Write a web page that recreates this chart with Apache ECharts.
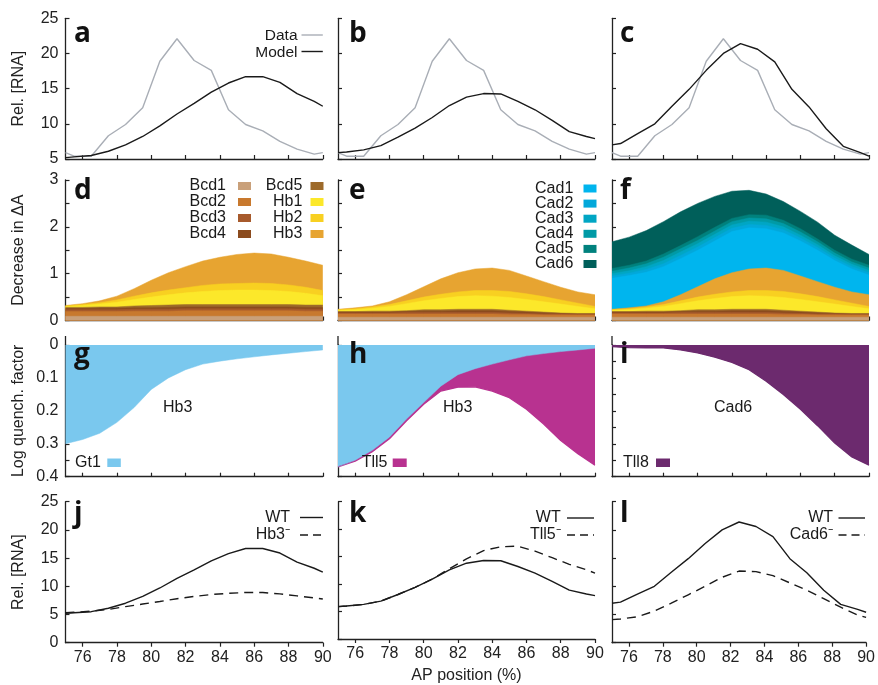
<!DOCTYPE html>
<html><head><meta charset="utf-8">
<script src="https://cdn.jsdelivr.net/npm/echarts@6/dist/echarts.min.js"></script>
<style>html,body{margin:0;padding:0;background:#fff}#c{width:878px;height:685px}</style>
</head><body><div id="c"></div>
<script>
// ---------- data ----------
const X_LINE = [75, 75.5, 76.5, 77.5, 78.5, 79.5, 80.5, 81.5, 82.5, 83.5, 84.5, 85.5, 86.5, 87.5, 88.5, 89.5, 90];
const X_AREA = [75, 76, 77, 78, 79, 80, 81, 82, 83, 84, 85, 86, 87, 88, 89, 90];
const X_TICKS = [76, 78, 80, 82, 84, 86, 88, 90];

const dataRNA   = [5.9, 5.4, 5.4, 8.3, 9.9, 12.3, 18.9, 22.1, 19.0, 17.6, 12.0, 9.9, 9.0, 7.5, 6.4, 5.7, 5.9];
const modelA    = [5.2, 5.3, 5.5, 6.1, 7.0, 8.2, 9.7, 11.4, 12.9, 14.5, 15.8, 16.7, 16.7, 15.9, 14.3, 13.2, 12.5];
const modelB    = [5.9, 6.0, 6.3, 6.9, 8.1, 9.4, 10.9, 12.6, 13.8, 14.3, 14.25, 13.2, 12.0, 10.5, 8.9, 8.2, 7.9];
const modelC    = [7.0, 7.2, 8.6, 10.0, 12.5, 14.9, 17.6, 20.0, 21.4, 20.6, 18.8, 14.9, 12.4, 9.3, 6.8, 5.9, 5.4];
const hb3Minus  = [5.3, 5.4, 5.6, 5.9, 6.4, 6.85, 7.3, 7.8, 8.2, 8.55, 8.75, 8.9, 8.9, 8.65, 8.3, 7.95, 7.75];
const tll5Minus = [5.9, 6.0, 6.3, 6.9, 8.1, 9.4, 10.9, 12.8, 14.6, 16.1, 16.8, 16.9, 16.0, 14.8, 13.6, 12.6, 12.0];
const cad6Minus = [4.1, 4.2, 4.6, 5.6, 7.0, 8.5, 10.0, 11.6, 12.7, 12.6, 11.9, 10.6, 9.3, 7.8, 6.3, 4.9, 4.5];

// panel d layers
const dBcd1 = [0.09,0.09,0.09,0.09,0.09,0.09,0.09,0.09,0.09,0.09,0.09,0.09,0.09,0.09,0.09,0.09];
const dBcd2 = [0.10,0.10,0.10,0.10,0.11,0.11,0.11,0.12,0.12,0.12,0.12,0.12,0.12,0.12,0.11,0.11];
const dBcd3 = [0.04,0.04,0.04,0.04,0.04,0.04,0.04,0.04,0.04,0.04,0.04,0.04,0.04,0.04,0.04,0.04];
const dBcd4 = [0.03,0.03,0.03,0.03,0.03,0.03,0.04,0.04,0.04,0.04,0.04,0.04,0.04,0.04,0.04,0.04];
const dBcd5 = [0.02,0.02,0.03,0.03,0.04,0.05,0.05,0.05,0.05,0.05,0.05,0.05,0.05,0.05,0.05,0.05];
const dHb1  = [0.02,0.04,0.06,0.10,0.14,0.18,0.22,0.25,0.28,0.30,0.31,0.31,0.30,0.28,0.25,0.20];
const dHb2  = [0.01,0.02,0.03,0.05,0.07,0.09,0.10,0.11,0.13,0.14,0.14,0.15,0.15,0.14,0.13,0.11];
const dHb3  = [0.01,0.02,0.04,0.08,0.16,0.27,0.37,0.45,0.52,0.57,0.62,0.64,0.63,0.59,0.56,0.54];

// panels e & f (Bcd + Hb layers)
const eBcd1 = [0.07,0.07,0.07,0.07,0.07,0.07,0.07,0.07,0.07,0.07,0.07,0.07,0.07,0.07,0.07,0.07];
const eBcd2 = [0.07,0.07,0.07,0.07,0.07,0.07,0.07,0.07,0.07,0.07,0.06,0.06,0.05,0.05,0.05,0.05];
const eBcd3 = [0.02,0.02,0.02,0.02,0.03,0.03,0.03,0.03,0.03,0.03,0.03,0.02,0.02,0.02,0.01,0.01];
const eBcd4 = [0.02,0.02,0.02,0.02,0.02,0.03,0.03,0.04,0.04,0.04,0.03,0.03,0.02,0.01,0.01,0.01];
const eBcd5 = [0.01,0.01,0.02,0.02,0.02,0.03,0.03,0.03,0.03,0.03,0.03,0.02,0.02,0.01,0.01,0.01];
const eHb1  = [0.03,0.04,0.06,0.10,0.15,0.19,0.24,0.27,0.29,0.28,0.27,0.25,0.22,0.19,0.15,0.10];
const eHb2  = [0.01,0.02,0.03,0.04,0.06,0.08,0.09,0.10,0.11,0.12,0.13,0.12,0.11,0.09,0.07,0.05];
const eHb3  = [0.01,0.02,0.02,0.06,0.13,0.22,0.33,0.41,0.46,0.48,0.45,0.38,0.32,0.27,0.24,0.25];
// panel f Cad layers
const fCad1 = [0.66,0.69,0.72,0.75,0.77,0.78,0.81,0.88,0.88,0.84,0.80,0.75,0.67,0.57,0.49,0.42];
const fCad2 = [0.05,0.05,0.06,0.06,0.07,0.07,0.07,0.07,0.07,0.07,0.07,0.06,0.06,0.05,0.05,0.05];
const fCad3 = [0.05,0.05,0.06,0.07,0.07,0.07,0.07,0.07,0.07,0.07,0.06,0.06,0.06,0.05,0.05,0.05];
const fCad4 = [0.05,0.06,0.06,0.07,0.07,0.07,0.07,0.07,0.07,0.07,0.07,0.07,0.06,0.06,0.05,0.05];
const fCad5 = [0.06,0.06,0.06,0.07,0.07,0.08,0.08,0.07,0.07,0.08,0.07,0.07,0.06,0.06,0.06,0.06];
const fCad6 = [0.57,0.60,0.65,0.69,0.72,0.71,0.66,0.58,0.52,0.45,0.40,0.37,0.36,0.32,0.30,0.23];

// quenching (log factor)
const gGt1 = [0.30,0.287,0.268,0.235,0.19,0.135,0.10,0.075,0.058,0.049,0.042,0.036,0.030,0.025,0.020,0.015];
const hGt1 = [0.37,0.35,0.32,0.28,0.225,0.175,0.125,0.09,0.072,0.058,0.045,0.033,0.026,0.02,0.015,0.01];
const hTll5 = [0.0,0.003,0.004,0.005,0.005,0.005,0.015,0.038,0.055,0.082,0.115,0.162,0.214,0.27,0.315,0.355];
const iTll8 = [0.005,0.008,0.009,0.009,0.015,0.024,0.037,0.053,0.075,0.11,0.15,0.195,0.245,0.298,0.34,0.365];

// ---------- styling ----------
const C = {
  Bcd1:'#c9a07a', Bcd2:'#c8792e', Bcd3:'#a75a2c', Bcd4:'#8b4b1e', Bcd5:'#9d6a2a',
  Hb1:'#fce82a', Hb2:'#f8d021', Hb3:'#e7a431',
  Cad1:'#00b5ee', Cad2:'#02a8da', Cad3:'#00a6c4', Cad4:'#009aa6', Cad5:'#00817d', Cad6:'#005f5a',
  Gt1:'#7ac8ee', Tll5:'#b83290', Tll8:'#6c2a6e', data:'#a9aeb6', ink:'#1a1a1a'
};
const FONT = '"Liberation Sans", Arial, sans-serif';
const AX = '#222';
const cols = [{left:65.5,width:257.3},{left:338,width:257},{left:612,width:257}];
const rows = [{top:18.3,height:140.7},{top:180,height:140.5},{top:345,height:131.7},{top:501.7,height:141}];

const grids = [], xAxes = [], yAxes = [], series = [];
rows.forEach((r, ri) => cols.forEach((c, ci) => {
  const gi = ri*3+ci;
  grids.push({left:c.left, top:r.top, width:c.width, height:r.height, containLabel:false});
  const xa = {
    type:'value', gridIndex:gi, min:75, max:90,
    axisLine:{show:true, onZero:false, lineStyle:{color:AX, width:1.3}},
    axisTick:{show:true, inside: ri<3, length:4, customValues:X_TICKS, lineStyle:{color:AX, width:1.2}},
    axisLabel:{show: ri===3, customValues:X_TICKS, fontSize:16, color:AX, fontFamily:FONT, margin:7},
    splitLine:{show:false}
  };
  if (gi === 10) {
    xa.name = 'AP position (%)'; xa.nameLocation = 'middle'; xa.nameGap = 29;
    xa.nameTextStyle = {fontSize:16, color:AX, fontFamily:FONT};
  }
  xAxes.push(xa);
  const cfg = [
    {min:5, max:25, interval:5, name:'Rel. [RNA]', fmt:v=>String(v)},
    {min:0, max:3, interval:0.5, name:'Decrease in ΔA', fmt:v=>(Math.abs(v-Math.round(v))<1e-6? String(Math.round(v)) : '')},
    {min:0, max:0.4, interval:0.05, inverse:true, name:'Log quench. factor', fmt:v=>(Math.abs(v*10-Math.round(v*10))<1e-6 ? String(Math.round(v*10)/10) : '')},
    {min:0, max:25, interval:5, name:'Rel. [RNA]', fmt:v=>String(v)}
  ][ri];
  const ya = {
    type:'value', gridIndex:gi, min:cfg.min, max:cfg.max, interval:cfg.interval, inverse:!!cfg.inverse,
    axisLine:{show:true, onZero:false, lineStyle:{color:AX, width:1.3}},
    axisTick:{show:true, inside:true, length:4, lineStyle:{color:AX, width:1.2}},
    axisLabel:{show: ci===0, formatter:cfg.fmt, fontSize:16, color:AX, fontFamily:FONT, margin:7},
    splitLine:{show:false}
  };
  if (ci === 0) {
    ya.name = cfg.name; ya.nameLocation = 'middle'; ya.nameGap = 39; ya.nameRotate = 90;
    ya.nameTextStyle = {fontSize:16, color:AX, fontFamily:FONT};
  }
  yAxes.push(ya);
}));

const pts = (xs, ys) => xs.map((x, i) => [x, ys[i]]);
function line(gi, ys, color, dashed, width) {
  series.push({type:'line', xAxisIndex:gi, yAxisIndex:gi, data:pts(X_LINE, ys), symbol:'none',
    silent:true, animation:false, z:3,
    lineStyle:{color, width: width || 1.4, type: dashed ? [9, 6] : 'solid'}});
}
// stacked layers: cumulative sums, drawn top-down so lower layers paint over upper ones
function stackAreas(gi, layers, colors, edge) {
  const cum = []; let run = X_AREA.map(() => 0);
  layers.forEach(L => { run = run.map((v, i) => v + L[i]); cum.push(run); });
  for (let k = cum.length - 1; k >= 0; k--) {
    const ew = edge && edge[k] ? edge[k] : 0.5;
    series.push({type:'line', xAxisIndex:gi, yAxisIndex:gi, data:pts(X_AREA, cum[k]), symbol:'none',
      silent:true, animation:false, z:2,
      lineStyle:{width: ew, color: colors[k]},
      areaStyle:{color: colors[k], opacity:1, origin:'start'}});
  }
}
// row 1
line(0, dataRNA, C.data, false, 1.4); line(0, modelA, C.ink);
line(1, dataRNA, C.data, false, 1.4); line(1, modelB, C.ink);
line(2, dataRNA, C.data, false, 1.4); line(2, modelC, C.ink);
// row 2
const BH = [C.Bcd1, C.Bcd2, C.Bcd3, C.Bcd4, C.Bcd5, C.Hb1, C.Hb2, C.Hb3];
stackAreas(3, [dBcd1,dBcd2,dBcd3,dBcd4,dBcd5,dHb1,dHb2,dHb3], BH);
stackAreas(4, [eBcd1,eBcd2,eBcd3,eBcd4,eBcd5,eHb1,eHb2,eHb3], BH);
stackAreas(5, [eBcd1,eBcd2,eBcd3,eBcd4,eBcd5,eHb1,eHb2,eHb3,fCad1,fCad2,fCad3,fCad4,fCad5,fCad6],
  BH.concat([C.Cad1, C.Cad2, C.Cad3, C.Cad4, C.Cad5, C.Cad6]));
// row 3 (inverse axis: 'start' = 0 at top)
stackAreas(6, [gGt1], [C.Gt1]);
stackAreas(7, [hGt1, hTll5], [C.Gt1, C.Tll5], [0.5, 1.3]);
stackAreas(8, [iTll8], [C.Tll8], [1.3]);
// row 4
line(9, modelA, C.ink); line(9, hb3Minus, C.ink, true);
line(10, modelB, C.ink); line(10, tll5Minus, C.ink, true);
line(11, modelC, C.ink); line(11, cad6Minus, C.ink, true);

// ---------- annotations ----------
const G = [];
const txt = (text, x, y, o) => G.push({type:'text', x, y, silent:true, z:100, style:Object.assign({text, fill:C.ink,
  fontFamily:FONT, fontSize:16, align:'left', verticalAlign:'middle'}, o||{})});
const rect = (x, y, w, h, fill) => G.push({type:'rect', silent:true, z:100, shape:{x, y, width:w, height:h}, style:{fill}});
const seg = (x1, y1, x2, y2, stroke, dash, lw) => G.push({type:'line', silent:true, z:100, shape:{x1,y1,x2,y2},
  style:{stroke, lineWidth:lw||1.4, lineDash: dash ? [8,5] : null}});
const LET = {fontFamily:'"Open Sans", "DejaVu Sans", sans-serif', fontWeight:'bold', fontSize:28, fill:'#111'};
const letters = [['a',74,34],['b',349,34],['c',620,34],['d',74,191],['e',349,191],['f',620,191],
  ['g',74,355],['h',349,355],['i',620,355],['j',74,514],['k',349,514],['l',620,514]];
letters.forEach(l => txt(l[0], l[1], l[2], LET));
// row 1 legend
txt('Data', 297.5, 36, {align:'right', fontSize:15.5}); seg(301.5, 35, 322.8, 35, C.data);
txt('Model', 297.5, 52.5, {align:'right', fontSize:15.5}); seg(301.5, 51.5, 322.8, 51.5, C.ink);
// row 2 legends
['Bcd1','Bcd2','Bcd3','Bcd4'].forEach((n,i) => {
  const y = 186 + i*16; txt(n, 226, y, {align:'right'}); rect(238, y-4, 13, 8, C[n]); });
['Bcd5','Hb1','Hb2','Hb3'].forEach((n,i) => {
  const y = 186 + i*16; txt(n, 302.3, y, {align:'right'}); rect(310.5, y-4, 13, 8, C[n]); });
['Cad1','Cad2','Cad3','Cad4','Cad5','Cad6'].forEach((n,i) => {
  const y = 188.5 + i*15.1; txt(n, 573.3, y, {align:'right'}); rect(583.5, y-4, 13, 8, C[n]); });
// row 3
txt('Hb3', 163, 408); txt('Hb3', 443, 408); txt('Cad6', 714, 408);
txt('Gt1', 75, 462.5); rect(107.3, 458.5, 13.5, 8.5, C.Gt1);
txt('Tll5', 361.7, 462.5); rect(392.7, 458.5, 14, 8.5, C.Tll5);
txt('Tll8', 623, 462.5); rect(656, 458.5, 14, 8.5, C.Tll8);
[65.5, 338, 612].forEach(x => seg(x, 336, x, 345, AX, false, 1.3));
// row 4 legends
txt('WT', 290, 517.5, {align:'right'}); seg(300, 517.5, 323, 517.5, C.ink);
txt('Hb3\u207B', 290, 535, {align:'right'}); seg(300, 535, 323, 535, C.ink, true);
txt('WT', 560.7, 518, {align:'right'}); seg(567, 518, 594, 518, C.ink);
txt('Tll5\u207B', 560.7, 535, {align:'right'}); seg(567, 535, 594, 535, C.ink, true);
txt('WT', 833, 518, {align:'right'}); seg(838.5, 518, 865, 518, C.ink);
txt('Cad6\u207B', 833, 535, {align:'right'}); seg(838.5, 535, 865, 535, C.ink, true);

const chart = echarts.init(document.getElementById('c'), null, {renderer:'canvas'});
chart.setOption({animation:false, backgroundColor:'#fff', grid:grids, xAxis:xAxes, yAxis:yAxes, series, graphic:G});
</script></body></html>
